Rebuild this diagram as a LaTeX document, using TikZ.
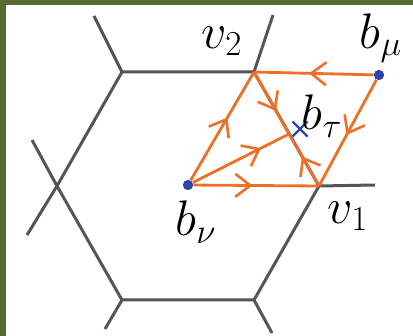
\documentclass[tikz,border=0pt]{standalone}
\usepackage{fix-cm}
\usepackage{tikz}
\usetikzlibrary{arrows.meta, decorations.markings, shapes.misc}
\definecolor{latgray}{RGB}{85,85,85}
\definecolor{pathorange}{RGB}{238,112,40}
\definecolor{dotblue}{RGB}{45,70,170}
\definecolor{frameolive}{RGB}{85,107,47}

\begin{document}
\begin{tikzpicture}[
    x=0.5pt, y=-0.5pt,
    font=\fontsize{25}{30}\selectfont,
    lattice/.style={draw=latgray, line width=1.5pt},
    flow/.style={draw=pathorange, line width=1.4pt},
    midarrow/.style={postaction={decorate, decoration={markings,
        mark=at position #1 with {\arrow{Straight Barb[length=7.5pt,width=11.5pt,line width=1.3pt]}}}}},
    charge/.style={circle, fill=dotblue, inner sep=0pt, minimum size=5pt},
    flux/.style={cross out, draw=dotblue, line width=1.1pt, inner sep=0pt, minimum size=6.5pt},
    lbl/.style={inner sep=0pt}
  ]
  \useasboundingbox (0,0) rectangle (413,336);

  % ===== FRAME =====
  \fill[frameolive] (0,0) rectangle (413,5);
  \fill[frameolive] (0,0) rectangle (6,336);

  % ===== LATTICE =====
  \coordinate (tl) at (122,72);
  \coordinate (v2) at (254,72);
  \coordinate (v1) at (319,186);
  \coordinate (br) at (254,300);
  \coordinate (bl) at (122,300);
  \coordinate (lf) at (57,186);
  \draw[lattice] (tl) -- (v2) -- (v1) -- (br) -- (bl) -- (lf) -- cycle;
  % stubs to the neighbouring cells
  \draw[lattice] (tl) -- (94,16);
  \draw[lattice] (v2) -- (273,15);
  \draw[lattice] (v1) -- (375,185);
  \draw[lattice] (br) -- (272,333);
  \draw[lattice] (bl) -- (105,329);
  \draw[lattice] (lf) -- (32,140);
  \draw[lattice] (lf) -- (27,235);

  % ===== CHARGES =====
  \node[charge] (bnu) at (188,185) {};
  \node[charge] (bmu) at (379,75) {};
  \coordinate (tj) at (289,134);
  \node[flux] (btau) at (300,129) {};

  % ===== PATHS =====
  \draw[flow, midarrow=0.58] (bnu) -- (v2);
  \draw[flow, midarrow=0.47] (bnu) -- (v1);
  \draw[flow, midarrow=0.71] (bnu) -- (tj);
  \draw[flow, midarrow=0.63] (v2) -- (tj);
  \draw[flow, midarrow=0.57] (v1) -- (tj);
  \draw[flow, midarrow=0.54] (bmu) -- (v2);
  \draw[flow, midarrow=0.52] (bmu) -- (v1);
  \fill[dotblue] (bnu) circle (2.5pt);
  \fill[dotblue] (bmu) circle (2.5pt);

  % ===== LABELS =====
  \node[lbl] (v2lbl) at (222,41) {$v_2$};
  \node[lbl] (v1lbl) at (348,216) {$v_1$};
  \node[lbl] (bmulbl) at (381,38) {$b_\mu$};
  \node[lbl] (btaulbl) at (322,116) {$b_\tau$};
  \node[lbl] (bnulbl) at (196,222) {$b_\nu$};

\end{tikzpicture}
\end{document}
